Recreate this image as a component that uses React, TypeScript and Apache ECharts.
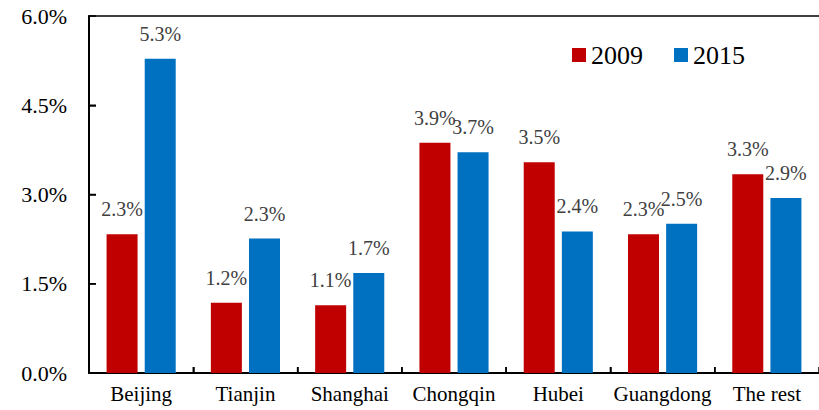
import React, { useEffect, useRef } from "react";
import * as echarts from "echarts";

const categories = ["Beijing", "Tianjin", "Shanghai", "Chongqin", "Hubei", "Guangdong", "The rest"];
const values2009 = [2.33, 1.18, 1.14, 3.87, 3.54, 2.33, 3.34];
const values2015 = [5.28, 2.26, 1.68, 3.71, 2.38, 2.51, 2.94];
const labels2009 = ["2.3%", "1.2%", "1.1%", "3.9%", "3.5%", "2.3%", "3.3%"];
const labels2015 = ["5.3%", "2.3%", "1.7%", "3.7%", "2.4%", "2.5%", "2.9%"];
const yTicks = { min: 0, max: 6, interval: 1.5 };

const FONT = "Liberation Serif";

export default function App() {
  const ref = useRef<HTMLDivElement>(null);
  useEffect(() => {
    document.body.style.margin = "0";
    const chart = echarts.init(ref.current!, null, { renderer: "svg" });
    const labelStyle = (arr: string[]) => ({
      show: true,
      position: "top",
      distance: 15,
      color: "#404040",
      fontFamily: FONT,
      fontSize: 20,
      formatter: (p: any) => arr[p.dataIndex],
    });
    chart.setOption({
      animation: false,
      textStyle: { fontFamily: FONT },
      grid: { left: 89, right: 0, top: 16, bottom: 37 },
      legend: {
        top: 42,
        left: 572,
        padding: 0,
        itemWidth: 14,
        itemHeight: 14,
        itemGap: 31,
        icon: "rect",
        textStyle: { fontFamily: FONT, fontSize: 26, color: "#000", padding: [0, 0, 0, 0] },
        data: ["2009", "2015"],
      },
      xAxis: [
        {
          type: "category",
          data: categories,
          axisLine: { show: true, lineStyle: { color: "#000", width: 2 } },
          axisTick: { show: true, inside: true, length: 6, interval: 0, alignWithLabel: false, lineStyle: { color: "#000", width: 1.5 } },
          axisLabel: { color: "#000", fontFamily: FONT, fontSize: 21, margin: 10, interval: 0 },
        },
        {
          type: "category",
          data: categories,
          position: "top",
          axisLine: { show: true, lineStyle: { color: "#000", width: 1.5 } },
          axisTick: { show: false },
          axisLabel: { show: false },
        },
      ],
      yAxis: {
        type: "value",
        min: yTicks.min,
        max: yTicks.max,
        interval: yTicks.interval,
        splitLine: { show: false },
        axisLine: { show: true, lineStyle: { color: "#000", width: 2 } },
        axisTick: { show: true, inside: true, length: 7, lineStyle: { color: "#000", width: 1.5 } },
        axisLabel: {
          color: "#000",
          fontFamily: FONT,
          fontSize: 22,
          margin: 22,
          formatter: (v: number) => v.toFixed(1) + "%",
        },
      },
      series: [
        {
          name: "2009",
          type: "bar",
          data: values2009,
          barWidth: 31,
          barGap: "23%",
          itemStyle: { color: "#C00000" },
          label: labelStyle(labels2009),
        },
        {
          name: "2015",
          type: "bar",
          data: values2015,
          barWidth: 31,
          barGap: "23%",
          itemStyle: { color: "#0070C0" },
          label: labelStyle(labels2015),
        },
      ],
    });

    // Tick marks derived from the library's own scales
    const ticks: any[] = [];
    const y0 = chart.convertToPixel({ yAxisIndex: 0 }, yTicks.min) as number;
    const xLeft = chart.convertToPixel({ xAxisIndex: 0 }, categories[0]) as number;
    const xNext = chart.convertToPixel({ xAxisIndex: 0 }, categories[1]) as number;
    const step = xNext - xLeft;
    const axisX = xLeft - step / 2;
    for (let i = 1; i < categories.length; i++) {
      const xc = chart.convertToPixel({ xAxisIndex: 0 }, categories[i]) as number;
      const xb = xc - step / 2;
      ticks.push({
        type: "line",
        shape: { x1: xb, y1: y0, x2: xb, y2: y0 - 6 },
        style: { stroke: "#000", lineWidth: 1.5 },
        silent: true,
      });
    }
    for (let v = yTicks.min + yTicks.interval; v < yTicks.max; v += yTicks.interval) {
      const yp = chart.convertToPixel({ yAxisIndex: 0 }, v) as number;
      ticks.push({
        type: "line",
        shape: { x1: axisX, y1: yp, x2: axisX + 7, y2: yp },
        style: { stroke: "#000", lineWidth: 1.5 },
        silent: true,
      });
    }
    chart.setOption({ graphic: ticks });

    return () => chart.dispose();
  }, []);
  return <div ref={ref} style={{ width: 819, height: 410 }} />;
}
